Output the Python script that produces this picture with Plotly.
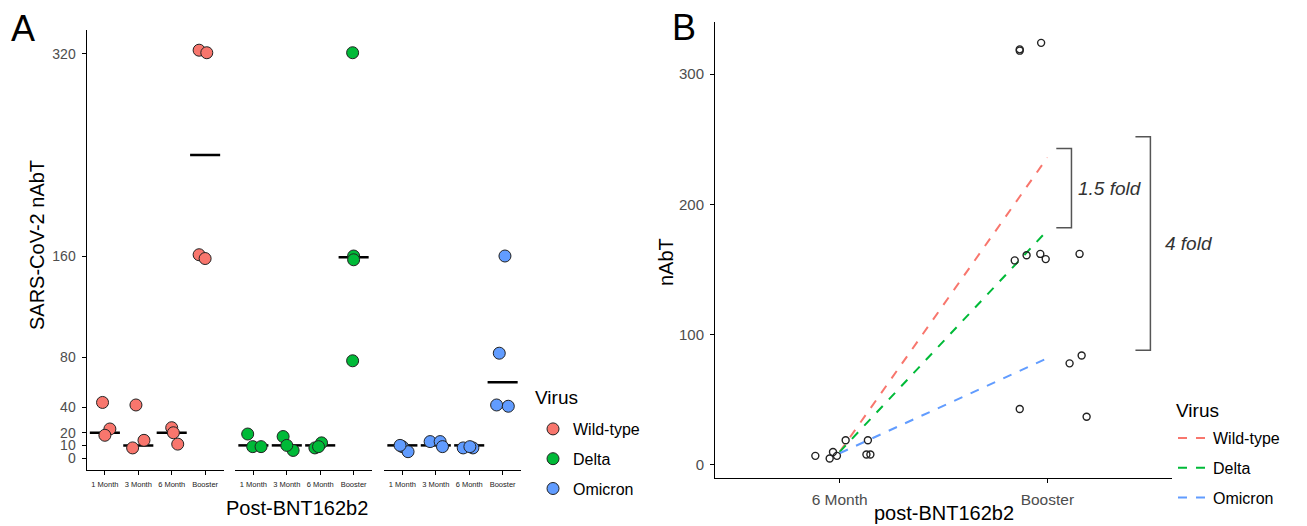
import plotly.graph_objects as go

W, H = 1307, 526
OFF = 8  # default page body margin
FW, FH = W - OFF, H - OFF

timepoints = ["1 Month", "3 Month", "6 Month", "Booster"]
viruses = ["Wild-type", "Delta", "Omicron"]
colors = {"Wild-type": "#F8766D", "Delta": "#00BA38", "Omicron": "#619CFF"}

# ---- Panel A data (time index, jitter offset, titre) ----
wt_time = [0, 0, 0, 1, 1, 1, 2, 2, 2, 3, 3, 3, 3]
wt_jit = [-0.07, 0.15, 0.0, -0.07, -0.17, 0.17, 0.0, 0.05, 0.18, -0.18, 0.05, -0.18, 0.0]
wt_val = [44, 23, 18, 42, 8, 14, 24, 20, 11, 323, 321, 161, 158]
wt_med = [20, 10, 20, 240]

de_time = [0, 0, 0, 1, 1, 1, 2, 2, 2, 3, 3, 3, 3]
de_jit = [-0.17, -0.02, 0.23, -0.11, 0.19, 0.0, -0.16, 0.04, -0.05, -0.03, 0.0, -0.03, 0.0]
de_val = [19, 9, 9, 17, 6, 10, 8, 12, 9, 321, 160, 77, 157]
de_med = [10, 10, 10, 159]

om_time = [0, 0, 0, 1, 1, 1, 2, 2, 2, 3, 3, 3, 3]
om_jit = [0.0, 0.17, -0.07, -0.17, 0.13, 0.2, -0.18, 0.11, 0.02, 0.07, -0.1, -0.18, 0.17]
om_val = [9, 5, 10, 13, 13, 9, 8, 8, 9, 160, 83, 42, 41]
om_med = [10, 10, 10, 60]

a_ticks = [0, 10, 20, 40, 80, 160, 320]

# ---- Panel B data ----
b_times = ["6 Month", "Booster"]
b_time = [0, 0, 0, 0, 0, 0, 0, 0, 1, 1, 1, 1, 1, 1, 1, 1, 1, 1, 1, 1]
b_jit = [-0.117, -0.048, -0.032, -0.013, 0.029, 0.136, 0.129, 0.148,
         -0.133, -0.133, -0.03, -0.157, -0.1, -0.034, -0.008, 0.155, -0.133, 0.107, 0.165, 0.189]
b_val = [7, 5, 10, 7, 19, 19, 8, 8,
         318, 319, 324, 157, 161, 162, 158, 162, 43, 78, 84, 37]
line_start = [10, 10, 9]
line_end = [236, 180, 82]
b_ticks = [0, 100, 200, 300]
bracket_small = [182, 243]
bracket_big = [88, 252]
fold_labels = ["1.5 fold", "4 fold"]

FONT = "Liberation Sans, Arial, sans-serif"

fig = go.Figure()

panel_a = [
    ("x", wt_time, wt_jit, wt_val, wt_med, "Wild-type"),
    ("x2", de_time, de_jit, de_val, de_med, "Delta"),
    ("x3", om_time, om_jit, om_val, om_med, "Omicron"),
]
for i, (xa, t, j, v, med, name) in enumerate(panel_a):
    mx, my = [], []
    for k, m in enumerate(med):
        mx += [k - 0.45, k + 0.45, None]
        my += [m, m, None]
    fig.add_trace(go.Scatter(x=mx, y=my, mode="lines", xaxis=xa, yaxis="y",
                             line=dict(color="black", width=2.5), showlegend=False,
                             hoverinfo="skip"))
    fig.add_trace(go.Scatter(x=[a + b for a, b in zip(t, j)], y=v, mode="markers",
                             xaxis=xa, yaxis="y", name=name, legend="legend",
                             legendgroup=name,
                             marker=dict(size=12, color=colors[name],
                                         line=dict(color="#222222", width=1))))

# Panel B
for i, name in enumerate(viruses):
    fig.add_trace(go.Scatter(x=[0, 1], y=[line_start[i], line_end[i]], mode="lines",
                             xaxis="x4", yaxis="y4", name=name, legend="legend2",
                             legendgroup=name + "B",
                             line=dict(color=colors[name], width=2, dash="dash")))
fig.add_trace(go.Scatter(x=[a + b for a, b in zip(b_time, b_jit)], y=b_val, mode="markers",
                         xaxis="x4", yaxis="y4", showlegend=False,
                         marker=dict(size=7, color="rgba(0,0,0,0)",
                                     line=dict(color="#222222", width=1.4))))


def px_x(p):
    return (p - OFF) / FW


def px_y(p):
    return 1 - (p - OFF) / FH


axis_common = dict(showline=True, linecolor="black", linewidth=1, ticks="outside",
                   ticklen=4, tickcolor="black", showgrid=False, zeroline=False,
                   ticklabelstandoff=3)

xa_common = dict(axis_common, range=[-0.55, 3.55], tickvals=[0, 1, 2, 3],
                 ticktext=timepoints, tickfont=dict(size=7.5, color="#222222", family=FONT),
                 anchor="y", fixedrange=True)

fig.update_layout(
    width=FW, height=FH, margin=dict(l=0, r=0, t=0, b=0),
    paper_bgcolor="white", plot_bgcolor="white",
    font=dict(family=FONT, color="black"),
    xaxis=dict(xa_common, domain=[px_x(86.5), px_x(223.5)]),
    xaxis2=dict(xa_common, domain=[px_x(235), px_x(372)]),
    xaxis3=dict(xa_common, domain=[px_x(384), px_x(521)]),
    yaxis=dict(axis_common, domain=[px_y(470), px_y(30)], range=[-9.5, 339],
               tickvals=a_ticks, tickfont=dict(size=14, color="#4D4D4D"), anchor="x"),
    xaxis4=dict(axis_common, domain=[px_x(715), px_x(1172)], range=[-0.6, 1.6],
                tickvals=[0, 1], ticktext=b_times, anchor="y4",
                tickfont=dict(size=15.5, color="#4D4D4D")),
    yaxis4=dict(axis_common, domain=[px_y(478), px_y(22)], range=[-10, 340],
                tickvals=b_ticks, tickfont=dict(size=15, color="#4D4D4D"), anchor="x4"),
    legend=dict(x=px_x(533), y=px_y(412), xanchor="left", yanchor="top",
                font=dict(size=16), tracegroupgap=6, traceorder="grouped",
                bgcolor="rgba(0,0,0,0)"),
    legend2=dict(x=px_x(1173), y=px_y(421), xanchor="left", yanchor="top",
                 font=dict(size=16), tracegroupgap=6, traceorder="grouped",
                 bgcolor="rgba(0,0,0,0)"),
)

# brackets
shapes = []
for (lo, hi), xv, xarm in [(bracket_small, 1.116, 1.043), (bracket_big, 1.496, 1.424)]:
    path = f"M {xarm} {hi} L {xv} {hi} L {xv} {lo} L {xarm} {lo}"
    shapes.append(dict(type="path", path=path, xref="x4", yref="y4",
                       line=dict(color="#555555", width=1.5)))
fig.update_layout(shapes=shapes)

ann = [
    dict(text="A", x=px_x(9), y=px_y(28), xanchor="left", font=dict(size=36)),
    dict(text="B", x=px_x(670), y=px_y(27), xanchor="left", font=dict(size=36)),
    dict(text="SARS-CoV-2 nAbT", x=px_x(37), y=px_y(245), textangle=-90,
         font=dict(size=20)),
    dict(text="Post-BNT162b2", x=px_x(297), y=px_y(508), font=dict(size=20)),
    dict(text="nAbT", x=px_x(666), y=px_y(262), textangle=-90, font=dict(size=20)),
    dict(text="post-BNT162b2", x=px_x(944), y=px_y(513), font=dict(size=20)),
    dict(text="Virus", x=px_x(533), y=px_y(397), xanchor="left", font=dict(size=19)),
    dict(text="Virus", x=px_x(1174), y=px_y(410), xanchor="left", font=dict(size=19)),
]
for a in ann:
    a.update(xref="paper", yref="paper", showarrow=False)
    a.setdefault("xanchor", "center")
    a.setdefault("yanchor", "middle")
ann.append(dict(text="<i>" + fold_labels[0] + "</i>", x=1.14, y=sum(bracket_small) / 2,
                xref="x4", yref="y4", xanchor="left", yanchor="middle", showarrow=False,
                font=dict(size=19, color="#333333")))
ann.append(dict(text="<i>" + fold_labels[1] + "</i>", x=1.557, y=sum(bracket_big) / 2,
                xref="x4", yref="y4", xanchor="left", yanchor="middle", showarrow=False,
                font=dict(size=19, color="#333333")))
fig.update_layout(annotations=ann)

fig.write_html("out.html")
